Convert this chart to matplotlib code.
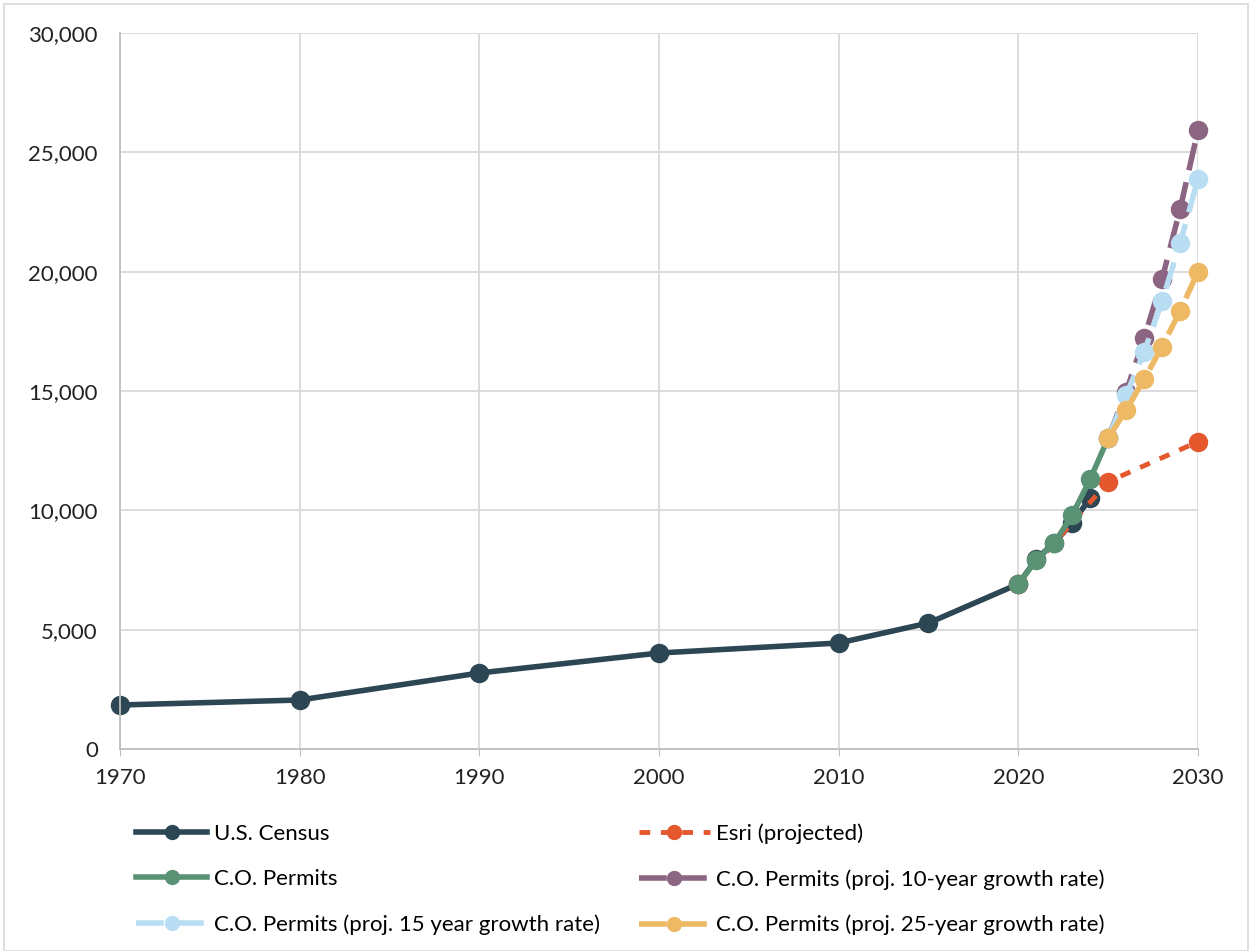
import matplotlib.pyplot as plt
from matplotlib.ticker import FuncFormatter, MultipleLocator
from matplotlib.patches import Rectangle

plt.rcParams['font.family'] = ['Lato', 'DejaVu Sans']
plt.rcParams['font.size'] = 16

# population / housing units by year
census_years = [1970, 1980, 1990, 2000, 2010, 2015, 2020, 2021, 2022, 2023, 2024]
census_vals = [1843, 2053, 3184, 4022, 4441, 5279, 6913, 7950, 8650, 9468, 10515]

esri_years = [2020, 2025, 2030]
esri_vals = [6913, 11198, 12875]

permit_years = [2020, 2021, 2022, 2023, 2024, 2025]
permit_vals = [6913, 7918, 8630, 9803, 11311, 13029]

proj_years = [2025, 2026, 2027, 2028, 2029, 2030]
proj10_vals = [13029, 14970, 17205, 19690, 22610, 25932]
proj15_vals = [13029, 14830, 16619, 18768, 21185, 23879]
proj25_vals = [13029, 14202, 15488, 16856, 18349, 19998]

c_census = '#2c4653'
c_esri = '#e5572d'
c_permit = '#5a9275'
c_p10 = '#8c6582'
c_p15 = '#b9ddf3'
c_p25 = '#edb964'

fig = plt.figure(figsize=(12.52, 9.51), dpi=100)
ax = fig.add_axes([120/1252, 1 - 749/951, (1198-120)/1252, (749-33)/951])

lw = 4
ms = 13
dash = (0, (5, 2.2))
l1, = ax.plot(census_years, census_vals, color=c_census, lw=lw, marker='o', ms=ms, label='U.S. Census')
l2, = ax.plot(esri_years, esri_vals, color=c_esri, lw=lw - 0.5, ls=(0, (2.2, 2.2)), marker='o', ms=ms,
              label='Esri (projected)')
l3, = ax.plot(permit_years, permit_vals, color=c_permit, lw=lw, marker='o', ms=ms, label='C.O. Permits')
l4, = ax.plot(proj_years, proj10_vals, color=c_p10, lw=lw, ls=dash, marker='o', ms=ms,
              label='C.O. Permits (proj. 10-year growth rate)')
l5, = ax.plot(proj_years, proj15_vals, color=c_p15, lw=lw, ls=dash, marker='o', ms=ms,
              label='C.O. Permits (proj. 15 year growth rate)')
l6, = ax.plot(proj_years, proj25_vals, color=c_p25, lw=lw, ls=dash, marker='o', ms=ms,
              label='C.O. Permits (proj. 25-year growth rate)')
for ln in [l1, l2, l3, l4, l5, l6]:
    ln.set_clip_on(False)

ax.set_xlim(1970, 2030)
ax.set_ylim(0, 30000)
ax.xaxis.set_major_locator(MultipleLocator(10))
ax.yaxis.set_major_locator(MultipleLocator(5000))
ax.yaxis.set_major_formatter(FuncFormatter(lambda v, p: f'{int(v):,}'))
ax.grid(True, color='#d9d9d9', lw=1.3)
ax.set_axisbelow(True)
for s in ['top', 'right']:
    ax.spines[s].set_visible(False)
for s in ['left', 'bottom']:
    ax.spines[s].set_color('#bfbfbf')
    ax.spines[s].set_linewidth(1.3)
ax.tick_params(axis='both', colors='#bfbfbf', labelcolor='#222222', labelsize=16, length=5)
ax.tick_params(axis='y', length=0, pad=16)
ax.tick_params(axis='x', pad=9)

# legend: two columns, filled row by row
handles = [l1, l3, l5, l2, l4, l6]
leg = fig.legend(handles=handles, labels=[h.get_label() for h in handles], ncol=2,
                 loc='upper left', bbox_to_anchor=(116/1252, 1 - 803/951), frameon=False,
                 fontsize=16, handlelength=3.2, columnspacing=1.75, labelspacing=1.14,
                 handletextpad=0.3)
for h in leg.legend_handles:
    h.set_markersize(10)

# outer chart border
fig.patches.append(Rectangle((4/1252, 0), 1 - 8/1252, 1 - 4/951, transform=fig.transFigure,
                             fill=False, edgecolor='#d9d9d9', lw=1.2))

fig.savefig('out.png', dpi=100)
